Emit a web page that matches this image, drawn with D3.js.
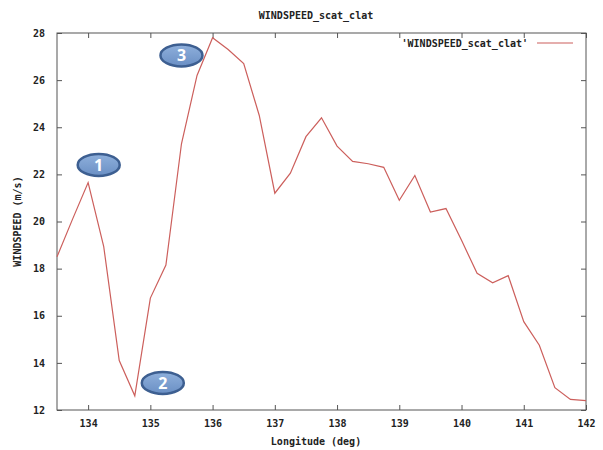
<!DOCTYPE html>
<html>
<head>
<meta charset="utf-8">
<script src="https://cdn.jsdelivr.net/npm/d3@7"></script>
<style>
  body { margin: 0; background: #fff; }
  text { font-family: "DejaVu Sans Mono", monospace; font-weight: bold; font-size: 10px; fill: #222; }
  .frame { fill: none; stroke: #555; stroke-width: 1; }
  .tick line { stroke: #555; }
  .domain { display: none; }
  .line { fill: none; stroke: #cc5f5c; stroke-width: 1.2; }
</style>
</head>
<body>
<div id="chart"></div>
<script>
// longitude (deg) and wind speed (m/s)
let longitudes = [133.5, 133.75, 134.0, 134.25, 134.5, 134.75, 135.0, 135.25, 135.5, 135.75,
                  136.0, 136.25, 136.5, 136.75, 137.0, 137.25, 137.5, 137.75, 138.0, 138.25,
                  138.5, 138.75, 139.0, 139.25, 139.5, 139.75, 140.0, 140.25, 140.5, 140.75,
                  141.0, 141.25, 141.5, 141.75, 142.0];
let windspeed = [18.5, 20.1, 21.65, 18.95, 14.1, 12.6, 16.75, 18.15, 23.3, 26.2,
                 27.8, 27.3, 26.7, 24.5, 21.2, 22.05, 23.6, 24.4, 23.2, 22.55,
                 22.45, 22.3, 20.9, 21.95, 20.4, 20.55, 19.2, 17.8, 17.4, 17.7,
                 15.75, 14.75, 12.95, 12.45, 12.4];
let xTicks = [134, 135, 136, 137, 138, 139, 140, 141, 142];
let yTicks = [12, 14, 16, 18, 20, 22, 24, 26, 28];
// numbered callouts
let calloutLabels = ["1", "2", "3"];
let calloutLon = [134.17, 135.2, 135.5];
let calloutVal = [22.4, 13.15, 27.05];

let margin = {top: 33, right: 17, bottom: 40, left: 57},
    width = 603 - margin.left - margin.right,
    height = 450 - margin.top - margin.bottom;

let svg = d3.select("#chart").append("svg")
    .attr("width", 603)
    .attr("height", 450);

let g = svg.append("g")
    .attr("transform", "translate(" + margin.left + "," + margin.top + ")");

let x = d3.scaleLinear().domain([133.5, 142]).range([0, width]),
    y = d3.scaleLinear().domain([12, 28]).range([height, 0]);

// gnuplot-style inward ticks on all four sides
g.append("g")
    .attr("transform", "translate(0," + height + ")")
    .call(d3.axisBottom(x).tickValues(xTicks).tickSize(-5).tickPadding(10).tickFormat(d3.format("d")));
g.append("g")
    .call(d3.axisTop(x).tickValues(xTicks).tickSize(-5).tickFormat(""));
g.append("g")
    .call(d3.axisLeft(y).tickValues(yTicks).tickSize(-5).tickPadding(12).tickFormat(d3.format("d")));
g.append("g")
    .attr("transform", "translate(" + width + ",0)")
    .call(d3.axisRight(y).tickValues(yTicks).tickSize(-5).tickFormat(""));

svg.selectAll(".tick text").attr("font-family", null).attr("font-size", null);

g.append("rect")
    .attr("class", "frame")
    .attr("width", width)
    .attr("height", height);

let data = longitudes.map(function(d, i) { return {lon: d, v: windspeed[i]}; });

let line = d3.line()
    .x(function(d) { return x(d.lon); })
    .y(function(d) { return y(d.v); });

g.append("path")
    .datum(data)
    .attr("class", "line")
    .attr("d", line);

// legend
g.append("text")
    .attr("x", width - 58)
    .attr("y", 14)
    .style("text-anchor", "end")
    .text("'WINDSPEED_scat_clat'");
g.append("line")
    .attr("x1", width - 49)
    .attr("x2", width - 13)
    .attr("y1", 10)
    .attr("y2", 10)
    .style("stroke", "#cc5f5c")
    .style("stroke-width", 1.2);

// title and axis labels
svg.append("text")
    .attr("x", 316)
    .attr("y", 19)
    .style("text-anchor", "middle")
    .text("WINDSPEED_scat_clat");

svg.append("text")
    .attr("x", 316)
    .attr("y", 445)
    .style("text-anchor", "middle")
    .text("Longitude (deg)");

svg.append("text")
    .attr("transform", "translate(21," + (margin.top + height / 2) + ") rotate(-90)")
    .style("text-anchor", "middle")
    .text("WINDSPEED (m/s)");

// callout bubbles
let defs = svg.append("defs");
let grad = defs.append("linearGradient")
    .attr("id", "bubble")
    .attr("x1", 0).attr("y1", 0).attr("x2", 0).attr("y2", 1);
grad.append("stop").attr("offset", "0%").attr("stop-color", "#8fb0dc");
grad.append("stop").attr("offset", "100%").attr("stop-color", "#6a8fc4");

let callouts = g.selectAll(".callout")
    .data(calloutLabels)
    .enter().append("g")
    .attr("class", "callout")
    .attr("transform", function(d, i) {
        return "translate(" + x(calloutLon[i]) + "," + y(calloutVal[i]) + ")";
    });

callouts.append("ellipse")
    .attr("rx", 21)
    .attr("ry", 11)
    .style("fill", "url(#bubble)")
    .style("stroke", "#3d5f91")
    .style("stroke-width", 2.5);

callouts.append("text")
    .attr("dy", "0.36em")
    .style("text-anchor", "middle")
    .style("font-family", "'Noto Sans', sans-serif")
    .style("font-size", "16px")
    .style("font-weight", "bold")
    .style("fill", "#fff")
    .text(function(d) { return d; });
</script>
</body>
</html>
